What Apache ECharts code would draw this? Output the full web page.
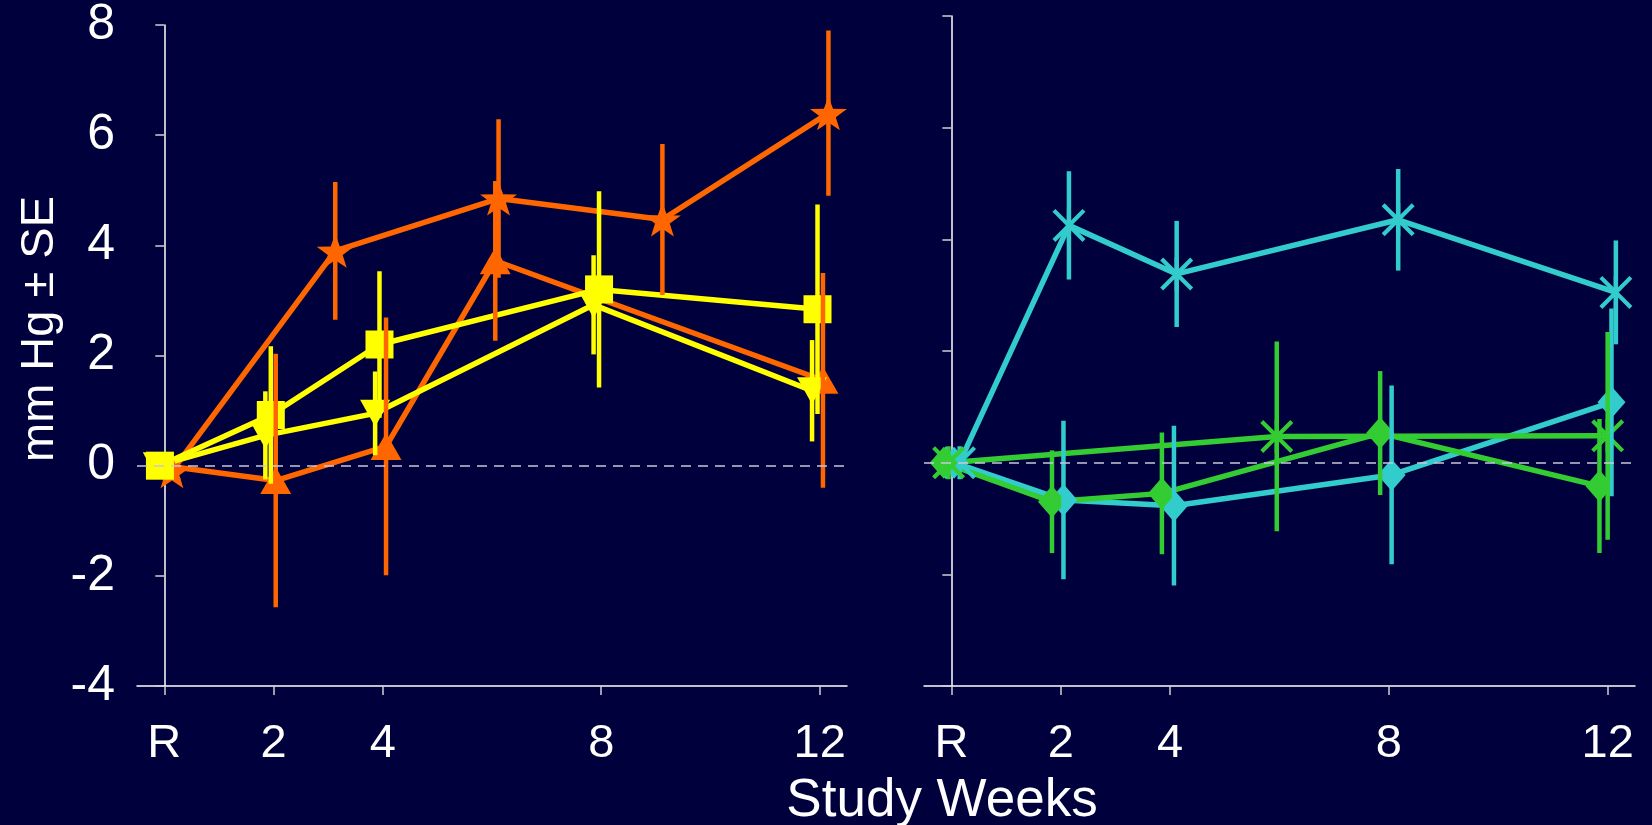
<!DOCTYPE html>
<html>
<head>
<meta charset="utf-8">
<script src="https://cdn.jsdelivr.net/npm/echarts@6/dist/echarts.min.js"></script>
<style>
html, body { margin: 0; background: #00003c; }
#chart { width: 1652px; height: 825px; }
</style>
</head>
<body>
<div id="chart"></div>
<script>
// x ticks (study weeks, R = run-in baseline)
var tickWeeks = [0, 2, 4, 8, 12];
var tickLabels = ['R', '2', '4', '8', '12'];

// left panel
var starWeeks = [0.14, 3.13, 6.12, 9.12, 12.16];
var starMean = [-0.1, 3.9, 4.85, 4.47, 6.4];
var starSE = [null, 1.25, 1.44, 1.37, 1.5];

var triWeeks = [0.02, 2.04, 4.06, 6.06, 12.06];
var triMean = [0, -0.27, 0.35, 3.72, 1.55];
var triSE = [null, 2.3, 2.34, 1.45, 1.95];

var sqWeeks = [-0.08, 1.95, 3.94, 7.96, 11.96];
var sqMean = [0, 0.92, 2.2, 3.2, 2.84];
var sqSE = [null, 1.25, 1.33, 1.78, 1.9];

var invWeeks = [-0.12, 1.85, 3.86, 7.86, 11.86];
var invMean = [0, 0.55, 0.95, 2.92, 1.36];
var invSE = [null, 0.8, 0.76, 0.9, 0.92];

// right panel
var cyanAstWeeks = [0.15, 2.15, 4.12, 8.17, 12.15];
var cyanAstMean = [0, 4.25, 3.38, 4.35, 3.05];
var cyanAstSE = [null, 0.97, 0.95, 0.91, 0.93];

var cyanDiaWeeks = [0.05, 2.05, 4.07, 8.05, 12.07];
var cyanDiaMean = [0, -0.67, -0.77, -0.22, 1.08];
var cyanDiaSE = [null, 1.42, 1.43, 1.6, 1.68];

var greenDiaWeeks = [-0.14, 1.84, 3.85, 7.84, 11.85];
var greenDiaMean = [0, -0.7, -0.55, 0.53, -0.42];
var greenDiaSE = [null, 0.92, 1.09, 1.11, 1.2];

var greenAstWeeks = [-0.05, 5.95, 12.0];
var greenAstMean = [0, 0.47, 0.48];
var greenAstSE = [null, 1.7, 1.86];

var ORANGE = '#ff6600', YELLOW = '#ffff00', CYAN = '#33cccc', GREEN = '#33cc33';
var FONT = '"Liberation Sans", Arial, sans-serif';

var STAR = 'path://M50,0 L61.76,33.82 L97.55,34.55 L69.02,56.18 L79.39,90.45 L50,70 L20.61,90.45 L30.98,56.18 L2.45,34.55 L38.24,33.82 Z';
var ASTERISK = 'path://M17.5,0.23 L22.5,0.23 L22.5,39.77 L17.5,39.77 Z ' +
    'M3.77,0.23 L39.77,36.23 L36.23,39.77 L0.23,3.77 Z ' +
    'M36.23,0.23 L39.77,3.77 L3.77,39.77 L0.23,36.23 Z';

var chart = echarts.init(document.getElementById('chart'));

function lineSeries(weeks, mean, color, symbol, size, rotate, idx) {
    return {
        type: 'line',
        xAxisIndex: idx,
        yAxisIndex: idx,
        data: weeks.map(function (w, i) { return [w, mean[i]]; }),
        symbol: symbol,
        symbolSize: size,
        symbolRotate: rotate || 0,
        showSymbol: true,
        lineStyle: { color: color, width: 5.5 },
        itemStyle: { color: color, opacity: 1 },
        z: 2
    };
}

function errSeries(weeks, mean, se, color, idx) {
    var rows = [];
    weeks.forEach(function (w, i) {
        if (se[i] != null) rows.push([w, mean[i] - se[i], mean[i] + se[i]]);
    });
    return {
        type: 'custom',
        xAxisIndex: idx,
        yAxisIndex: idx,
        data: rows,
        encode: { x: 0, y: [1, 2] },
        renderItem: function (params, api) {
            var a = api.coord([api.value(0), api.value(1)]);
            var b = api.coord([api.value(0), api.value(2)]);
            return {
                type: 'line',
                shape: { x1: a[0], y1: a[1], x2: b[0], y2: b[1] },
                style: { stroke: color, lineWidth: 4.5 }
            };
        },
        z: 3
    };
}

function zeroLine(idx) {
    return {
        type: 'line',
        xAxisIndex: idx,
        yAxisIndex: idx,
        data: [],
        markLine: {
            silent: true,
            symbol: 'none',
            label: { show: false },
            lineStyle: { color: '#c8c8dc', type: [10, 7], width: 1.5 },
            data: [{ yAxis: 0 }]
        },
        z: 1
    };
}

function xAxis(idx) {
    return {
        type: 'value',
        gridIndex: idx,
        min: -0.5,
        max: 12.5,
        axisLine: { onZero: false, lineStyle: { color: '#ffffff', width: 1.5 } },
        axisTick: { customValues: tickWeeks, length: 9, lineStyle: { color: '#d0d0d0', width: 1.5 } },
        axisLabel: {
            customValues: tickWeeks,
            margin: 35,
            color: '#ffffff',
            fontSize: 47,
            fontFamily: FONT,
            formatter: function (v) { return tickLabels[tickWeeks.indexOf(v)]; }
        },
        splitLine: { show: false }
    };
}

function yAxis(idx, labels) {
    return {
        type: 'value',
        gridIndex: idx,
        min: -4,
        max: 8,
        interval: 2,
        axisLine: { show: true, lineStyle: { color: '#ffffff', width: 1.5 } },
        axisTick: { show: true, length: 9, lineStyle: { color: '#d0d0d0', width: 1.5 } },
        axisLabel: { show: labels, margin: 22, color: '#ffffff', fontSize: 50, fontFamily: FONT },
        splitLine: { show: false }
    };
}

var option = {
    backgroundColor: '#00003c',
    animation: false,
    grid: [
        { left: 137, top: 16, width: 710, height: 670 },
        { left: 924, top: 16, width: 711, height: 670 }
    ],
    xAxis: [xAxis(0), xAxis(1)],
    yAxis: [yAxis(0, true), yAxis(1, false)],
    graphic: [
        {
            type: 'text',
            x: 40,
            y: 329,
            rotation: Math.PI / 2,
            style: {
                text: 'mm Hg \u00b1 SE',
                fill: '#ffffff',
                font: '47px ' + FONT,
                textAlign: 'center',
                textVerticalAlign: 'middle'
            }
        },
        {
            type: 'text',
            x: 942,
            y: 801,
            style: {
                text: 'Study Weeks',
                fill: '#ffffff',
                font: '53px ' + FONT,
                textAlign: 'center',
                textVerticalAlign: 'middle'
            }
        }
    ],
    series: [
        zeroLine(0),
        lineSeries(starWeeks, starMean, ORANGE, STAR, [37, 34], 0, 0),
        lineSeries(triWeeks, triMean, ORANGE, 'triangle', [31, 27], 0, 0),
        lineSeries(sqWeeks, sqMean, YELLOW, 'rect', 28, 0, 0),
        lineSeries(invWeeks, invMean, YELLOW, 'triangle', [30, 27], 180, 0),
        errSeries(starWeeks, starMean, starSE, ORANGE, 0),
        errSeries(triWeeks, triMean, triSE, ORANGE, 0),
        errSeries(sqWeeks, sqMean, sqSE, YELLOW, 0),
        errSeries(invWeeks, invMean, invSE, YELLOW, 0),

        zeroLine(1),
        lineSeries(cyanAstWeeks, cyanAstMean, CYAN, ASTERISK, 33, 0, 1),
        lineSeries(cyanDiaWeeks, cyanDiaMean, CYAN, 'diamond', [28, 32], 0, 1),
        lineSeries(greenAstWeeks, greenAstMean, GREEN, ASTERISK, 33, 0, 1),
        lineSeries(greenDiaWeeks, greenDiaMean, GREEN, 'diamond', [28, 32], 0, 1),
        errSeries(cyanAstWeeks, cyanAstMean, cyanAstSE, CYAN, 1),
        errSeries(cyanDiaWeeks, cyanDiaMean, cyanDiaSE, CYAN, 1),
        errSeries(greenAstWeeks, greenAstMean, greenAstSE, GREEN, 1),
        errSeries(greenDiaWeeks, greenDiaMean, greenDiaSE, GREEN, 1)
    ]
};
chart.setOption(option);
</script>
</body>
</html>
